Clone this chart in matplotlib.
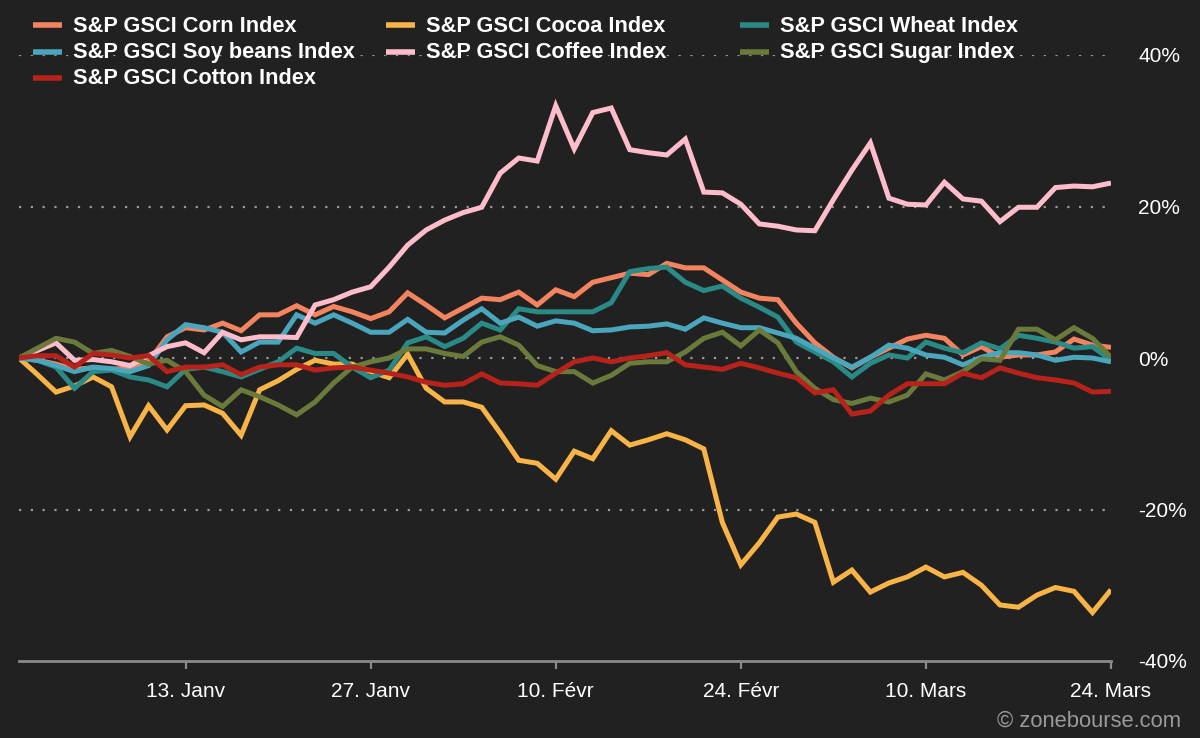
import numpy as np
import pandas as pd
import matplotlib
matplotlib.use("Agg")
import matplotlib.pyplot as plt
from matplotlib.lines import Line2D

plt.rcParams['font.family'] = ['Liberation Sans', 'DejaVu Sans']

# ---- data (performance in %, business days) ----
dates = pd.bdate_range('2024-12-31', '2025-03-24')

corn = [0, -0.3, -0.8, -1.5, -1.3, -1.5, -1.3, -0.5, 2.8, 4.0,
        3.7, 4.6, 3.6, 5.7, 5.7, 6.9, 5.7, 6.8, 6.1, 5.2,
        6.1, 8.6, 7.0, 5.3, 6.6, 7.9, 7.7, 8.7, 7.0, 9.0,
        8.1, 10.0, 10.6, 11.2, 11.0, 12.5, 11.9, 11.9, 10.3, 8.7,
        7.9, 7.7, 4.6, 2.0, 0.1, -1.3, 0.1, 1.3, 2.5, 3.0,
        2.6, 0.4, 1.5, 0.1, 0.4, 0.4, 0.8, 2.5, 1.7, 1.4]

cocoa = [0, -2.2, -4.5, -3.7, -2.5, -3.8, -10.4, -6.3, -9.5, -6.3,
         -6.2, -7.3, -10.2, -4.2, -3.0, -1.5, -0.3, -0.8, -0.8, -1.8,
         -2.6, 0.5, -4.0, -5.8, -5.8, -6.5, -9.9, -13.5, -13.9, -16.0,
         -12.3, -13.3, -9.6, -11.5, -10.8, -10.0, -10.8, -12.0, -21.7, -27.3,
         -24.4, -21.0, -20.6, -21.7, -29.6, -28.0, -30.9, -29.7, -28.9, -27.6,
         -28.9, -28.3, -30.0, -32.6, -32.9, -31.3, -30.3, -30.8, -33.6, -30.6]

wheat = [0, -0.3, -1.2, -4.0, -1.8, -1.6, -2.5, -2.9, -3.8, -1.5,
         -1.2, -1.8, -2.5, -1.5, -0.5, 1.3, 0.6, 0.6, -1.2, -2.6,
         -1.6, 2.0, 2.8, 1.5, 2.6, 4.6, 3.7, 6.5, 6.1, 6.1,
         6.1, 6.1, 7.3, 11.4, 11.8, 12.0, 10.0, 8.9, 9.5, 7.9,
         6.7, 5.4, 2.1, 0.8, -0.5, -2.5, -0.7, 0.4, 0.0, 2.1,
         1.3, 0.7, 2.0, 1.2, 3.0, 2.6, 2.1, 1.3, 1.5, -0.3]

soybeans = [0, -0.3, -1.0, -1.8, -1.2, -1.4, -1.8, -1.0, 2.4, 4.4,
            4.0, 3.4, 0.8, 2.1, 2.1, 5.7, 4.6, 5.7, 4.6, 3.4,
            3.4, 5.1, 3.4, 3.3, 5.0, 6.5, 4.6, 5.4, 4.2, 4.9,
            4.6, 3.6, 3.7, 4.1, 4.2, 4.5, 3.8, 5.3, 4.6, 4.0,
            4.0, 3.3, 2.6, 1.3, 0.0, -1.2, 0.1, 1.7, 1.3, 0.4,
            0.1, -0.9, 0.1, 0.7, 0.7, 0.4, -0.3, 0.1, 0.0, -0.5]

coffee = [0, 1.0, 2.0, -0.3, -0.2, -0.5, -1.0, 0.3, 1.5, 2.0,
          0.7, 3.4, 2.4, 2.8, 2.8, 2.7, 7.0, 7.7, 8.7, 9.4,
          12.0, 14.9, 16.9, 18.2, 19.2, 19.9, 24.4, 26.4, 26.0, 33.3,
          27.6, 32.4, 33.0, 27.5, 27.1, 26.8, 28.9, 21.9, 21.8, 20.3,
          17.7, 17.4, 16.9, 16.8, 20.9, 24.8, 28.4, 21.1, 20.3, 20.2,
          23.2, 21.0, 20.7, 18.0, 19.9, 19.9, 22.5, 22.7, 22.6, 23.1]

sugar = [0, 1.3, 2.6, 2.1, 0.6, 1.0, 0.2, -0.8, -0.3, -1.8,
         -4.9, -6.4, -4.2, -5.1, -6.2, -7.5, -5.8, -3.3, -1.2, -0.5,
         0.0, 1.2, 1.2, 0.6, 0.2, 2.1, 2.8, 1.7, -1.0, -1.8,
         -1.8, -3.3, -2.3, -0.7, -0.5, -0.5, 0.8, 2.6, 3.4, 1.6,
         3.7, 2.0, -1.8, -4.0, -5.5, -6.0, -5.3, -5.8, -4.9, -2.1,
         -2.9, -1.8, -0.1, -0.3, 3.8, 3.8, 2.4, 4.0, 2.6, 0.1]

cotton = [0, 0.3, 0.3, -1.2, 0.6, 0.4, 0.0, 0.3, -1.8, -1.2,
          -1.2, -0.9, -2.2, -1.2, -0.9, -0.9, -1.6, -1.3, -1.2, -1.6,
          -2.0, -2.5, -3.2, -3.6, -3.4, -2.1, -3.3, -3.4, -3.6, -2.0,
          -0.5, 0.0, -0.5, 0.0, 0.3, 0.7, -0.9, -1.2, -1.5, -0.7,
          -1.3, -2.0, -2.6, -4.6, -4.2, -7.4, -7.0, -4.9, -3.4, -3.4,
          -3.4, -2.0, -2.6, -1.3, -2.0, -2.6, -2.9, -3.3, -4.5, -4.4]

series_names = ["S&P GSCI Corn Index", "S&P GSCI Cocoa Index", "S&P GSCI Wheat Index",
                "S&P GSCI Soy beans Index", "S&P GSCI Coffee Index", "S&P GSCI Sugar Index",
                "S&P GSCI Cotton Index"]
series_values = [corn, cocoa, wheat, soybeans, coffee, sugar, cotton]
series_colors = ["#f4845f", "#f9b447", "#2a8a86", "#4aa6bd", "#ffbdcc", "#6a7a3b", "#b7221a"]

tick_dates = ['2025-01-13', '2025-01-27', '2025-02-10', '2025-02-24', '2025-03-10', '2025-03-24']
tick_labels = ["13. Janv", "27. Janv", "10. Févr", "24. Févr", "10. Mars", "24. Mars"]
y_ticks = [-40, -20, 0, 20, 40]
y_tick_labels = ["-40%", "-20%", "0%", "20%", "40%"]

# ---- figure ----
BG = "#212121"
W, H = 1200, 738
fig = plt.figure(figsize=(W / 100, H / 100), dpi=100, facecolor=BG)
ax = fig.add_axes([19 / W, 1 - 661 / H, (1111 - 19) / W, (661 - 55) / H])
ax.set_facecolor(BG)

x = np.arange(len(dates))
for name, vals, col in zip(series_names, series_values, series_colors):
    ax.plot(x, vals, color=col, lw=3.6, solid_joinstyle='miter', solid_capstyle='butt', zorder=3)

ax.set_xlim(0, len(dates) - 1)
ax.set_ylim(-40, 40)

# grid
for v in y_ticks:
    if v > -40:
        ax.axhline(v, color="#9a9a9a", lw=1.6, linestyle=(0, (1, 4.3)), zorder=1)

# axes styling
for s in ["top", "left", "right"]:
    ax.spines[s].set_visible(False)
ax.spines["bottom"].set_color("#8a8a8a")
ax.spines["bottom"].set_linewidth(2)

tick_pos = [dates.get_loc(pd.Timestamp(d)) for d in tick_dates]
ax.set_xticks(tick_pos)
ax.set_xticklabels(tick_labels)
ax.tick_params(axis='x', colors="#8a8a8a", length=6, width=1.6, pad=9,
               labelcolor="white", labelsize=15, direction='out')

ax.yaxis.tick_right()
ax.set_yticks(y_ticks)
ax.set_yticklabels(y_tick_labels)
ax.tick_params(axis='y', length=0, pad=19.5, labelcolor="white", labelsize=15)
for lbl in ax.get_yticklabels():
    lbl.set_horizontalalignment('left')

# legend (3 equal-width columns, row-major like the original)
col_x = [33, 386, 740]
row_y = [25, 51.5, 78]
for k, (name, col) in enumerate(zip(series_names, series_colors)):
    r, c = divmod(k, 3)
    yy = 1 - row_y[r] / H
    fig.add_artist(Line2D([col_x[c] / W, (col_x[c] + 29) / W], [yy, yy],
                          transform=fig.transFigure, color=col, lw=4.0, solid_capstyle='butt'))
    fig.text((col_x[c] + 40) / W, 1 - (row_y[r] + 6.5) / H, name, color="white", fontsize=15.7,
             fontweight='bold', va='baseline', ha='left')

fig.text(1181 / W, 1 - 727 / H, "© zonebourse.com", color="#9a9a9a", fontsize=15.8,
         ha='right', va='baseline')

fig.savefig("out.png", dpi=100, facecolor=BG)
